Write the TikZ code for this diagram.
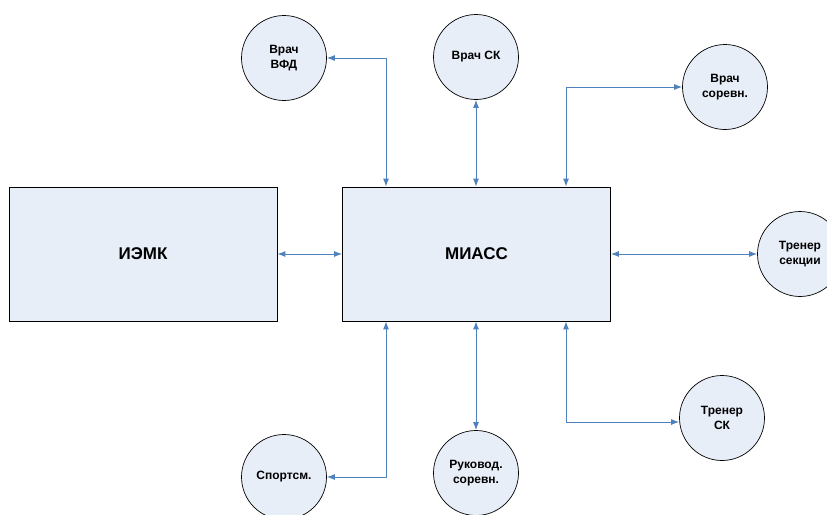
\documentclass[tikz,border=0pt]{standalone}
\usepackage{fontspec}
\setmainfont{Liberation Sans}
\usetikzlibrary{arrows.meta}
\definecolor{fillc}{HTML}{E8EEF7}
\definecolor{arrc}{HTML}{4F81BD}
\tikzset{
  box/.style={draw=black, line width=0.8pt, fill=fillc, minimum width=268pt, minimum height=134pt, inner sep=0pt, font=\bfseries\fontsize{17}{20}\selectfont},
  circ/.style={draw=black, line width=0.7pt, fill=fillc, circle, minimum size=85pt, inner sep=0pt, align=center, font=\bfseries\fontsize{12}{15}\selectfont},
  conn/.style={draw=arrc, line width=1pt, {Latex[length=8pt,width=6pt]}-{Latex[length=8pt,width=6pt]}}
}
\begin{document}
\begin{tikzpicture}[x=1pt,y=-1pt]
\useasboundingbox (0,0) rectangle (827,514);
\clip (0,0) rectangle (827,514);
\fill[white] (0,0) rectangle (827,514);
\node[box] (iemk) at (143,254) {ИЭМК};
\node[box] (miass) at (476.5,254) {МИАСС};
\node[circ] (vfd) at (284,58) {Врач\\ВФД};
\node[circ] (vsk) at (476,57) {Врач СК};
\node[circ] (vsor) at (725,87) {Врач\\соревн.};
\node[circ] (tsec) at (800,254) {Тренер\\секции};
\node[circ] (sport) at (284,477) {Спортсм.};
\node[circ] (ruk) at (476,473) {Руковод.\\соревн.};
\node[circ] (tsk) at (722,418) {Тренер\\СК};
\coordinate (c1) at (386,58);
\coordinate (c2) at (566,87);
\coordinate (c3) at (386,477);
\coordinate (c4) at (566,422);
\draw[conn] (iemk.east) -- (miass.west);
\draw[conn] (vfd.east) -- (c1) -- (miass.north -| c1);
\draw[conn] (vsk.south) -- (miass.north -| vsk.south);
\draw[conn] (miass.north -| c2) -- (c2) -- (vsor.west |- c2);
\draw[conn] (miass.east) -- (tsec.west);
\draw[conn] (miass.south -| c3) -- (c3) -- (sport.east |- c3);
\draw[conn] (miass.south -| ruk.north) -- (ruk.north);
\draw[conn] (miass.south -| c4) -- (c4) -- (tsk.west |- c4);
\end{tikzpicture}
\end{document}
